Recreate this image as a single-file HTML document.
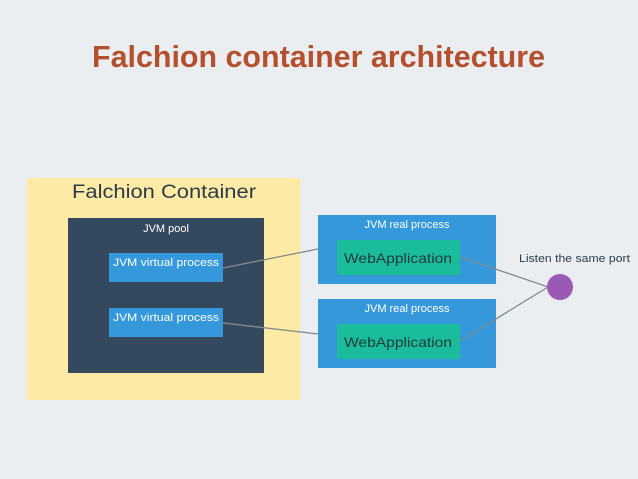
<!DOCTYPE html>
<html><head><meta charset="utf-8"><style>
html,body{margin:0;padding:0;background:#ebeef0;}
svg{display:block;font-family:"Liberation Sans",sans-serif;}
</style></head><body>
<svg width="638" height="479" viewBox="0 0 638 479">
<rect width="638" height="479" fill="#ebeef0"/>
<text x="92" y="67" font-size="31" font-weight="bold" fill="#b5502e" textLength="453" lengthAdjust="spacingAndGlyphs">Falchion container architecture</text>
<rect x="27" y="178" width="273" height="222" fill="#fdeba5"/>
<text x="72" y="198" font-size="19" fill="#2c3b4a" textLength="184" lengthAdjust="spacingAndGlyphs">Falchion Container</text>
<rect x="68" y="218" width="196" height="155" fill="#34495e"/>
<text x="166" y="232" font-size="11" fill="#ffffff" text-anchor="middle">JVM pool</text>
<rect x="109" y="253" width="114" height="29" fill="#3498db"/>
<text x="166" y="266" font-size="11" fill="#ffffff" text-anchor="middle" textLength="106" lengthAdjust="spacingAndGlyphs">JVM virtual process</text>
<rect x="109" y="308" width="114" height="29" fill="#3498db"/>
<text x="166" y="321" font-size="11" fill="#ffffff" text-anchor="middle" textLength="106" lengthAdjust="spacingAndGlyphs">JVM virtual process</text>
<rect x="318" y="215" width="178" height="69" fill="#3498db"/>
<text x="407" y="228" font-size="11" fill="#ffffff" text-anchor="middle">JVM real process</text>
<rect x="337" y="240" width="123" height="35" fill="#1abc9c"/>
<text x="398" y="263" font-size="14" fill="#1f3a3a" text-anchor="middle" textLength="108" lengthAdjust="spacingAndGlyphs">WebApplication</text>
<rect x="318" y="299" width="178" height="69" fill="#3498db"/>
<text x="407" y="312" font-size="11" fill="#ffffff" text-anchor="middle">JVM real process</text>
<rect x="337" y="324" width="123" height="35" fill="#1abc9c"/>
<text x="398" y="347" font-size="14" fill="#1f3a3a" text-anchor="middle" textLength="108" lengthAdjust="spacingAndGlyphs">WebApplication</text>
<g stroke="#7f8c8d" stroke-width="1.3">
<line x1="223" y1="268" x2="318" y2="249"/>
<line x1="223" y1="323" x2="318" y2="334"/>
<line x1="460" y1="257" x2="548" y2="287"/>
<line x1="460" y1="341" x2="548" y2="287"/>
</g>
<circle cx="560" cy="287" r="13" fill="#9b59b6"/>
<text x="519" y="262" font-size="11" fill="#2c3b4a" textLength="111" lengthAdjust="spacingAndGlyphs">Listen the same port</text>
</svg>
</body></html>
